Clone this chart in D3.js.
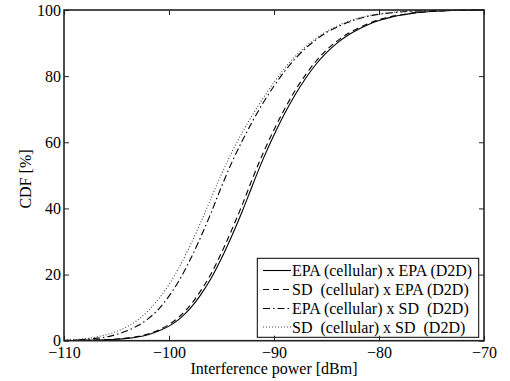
<!DOCTYPE html>
<html><head><meta charset="utf-8">
<script src="https://cdn.jsdelivr.net/npm/d3@7"></script>
<style>
html,body{margin:0;padding:0;background:#fff;}
svg text{font-family:"Liberation Serif","Times New Roman","DejaVu Serif",serif;font-size:16px;fill:#000;}
</style></head>
<body><svg id="c" width="510" height="381"></svg>
<script>
const powerDbm = d3.range(-110, -69, 1);
const epaEpa = [0.05,0.08,0.12,0.2,0.3,0.45,0.7,1.1,1.8,2.9,4.4,6.6,9.7,13.8,18.8,24.9,31.8,39.3,47.4,55.2,62.2,68.6,74.3,79.3,83.6,87.1,90.0,92.3,94.1,95.6,96.8,97.7,98.4,98.9,99.3,99.55,99.72,99.84,99.92,99.97,100];
const sdEpa = [0.06,0.09,0.14,0.22,0.34,0.5,0.8,1.25,2.0,3.2,4.9,7.3,10.6,15.0,20.2,26.6,33.7,41.3,49.4,57.0,63.8,70.0,75.6,80.4,84.5,87.9,90.6,92.8,94.5,95.9,97.1,97.9,98.5,99.0,99.35,99.6,99.75,99.86,99.93,99.97,100];
const epaSd = [0.1,0.2,0.4,0.7,1.1,1.9,3.0,4.5,6.6,9.5,13.5,18.4,24.4,31.2,38.6,46.6,54.0,60.6,66.6,72.1,77.0,81.4,85.2,88.4,91.0,93.2,94.8,96.2,97.3,98.1,98.7,99.1,99.4,99.6,99.75,99.85,99.9,99.94,99.97,99.99,100];
const sdSd = [0.2,0.35,0.6,1.1,1.8,2.8,4.2,6.2,9.0,12.6,17.0,22.4,28.7,35.6,43.0,50.4,57.1,63.1,68.5,73.5,78.1,82.3,85.9,88.9,91.4,93.5,95.1,96.5,97.5,98.3,98.8,99.2,99.5,99.7,99.8,99.88,99.93,99.96,99.98,99.99,100];
const seriesNames = ["EPA (cellular) x EPA (D2D)","SD  (cellular) x EPA (D2D)","EPA (cellular) x SD  (D2D)","SD  (cellular) x SD  (D2D)"];
const xTicks = [-110,-100,-90,-80,-70];
const yTicks = [0,20,40,60,80,100];

const styles = [
  {dash:null, color:"#000", w:1.1},
  {dash:"6,4", color:"#000", w:1.1},
  {dash:"7,3,1.5,3", color:"#000", w:1.1},
  {dash:"1,2", color:"#444", w:1.1}
];
const seriesVals = [epaEpa, sdEpa, epaSd, sdSd];

const svg = d3.select("#c");
const L=64, R=484, T=10, B=340.7;
const x = d3.scaleLinear().domain([-110,-70]).range([L,R]);
const y = d3.scaleLinear().domain([0,100]).range([B,T]);

const line = d3.line().x(d=>x(d[0])).y(d=>y(d[1])).curve(d3.curveMonotoneX);
const g = svg.append("g");
seriesVals.forEach((vals,i)=>{
  const pts = powerDbm.map((p,j)=>[p, vals[j]]);
  g.append("path").attr("d", line(pts)).attr("fill","none")
    .attr("stroke", styles[i].color).attr("stroke-width", styles[i].w)
    .attr("stroke-dasharray", styles[i].dash);
});

// legend
const lg = svg.append("g");
const lx0=257.3, ly0=258.3, lx1=478.7, ly1=337.3;
lg.append("rect").attr("x",lx0).attr("y",ly0).attr("width",lx1-lx0).attr("height",ly1-ly0)
  .attr("fill","#fff").attr("stroke","#000").attr("stroke-width",1);
const rowY = [270.5, 289.5, 308.5, 327];
seriesNames.forEach((n,i)=>{
  lg.append("line").attr("x1",263).attr("x2",291).attr("y1",rowY[i]).attr("y2",rowY[i])
    .attr("stroke",styles[i].color).attr("stroke-width",styles[i].w).attr("stroke-dasharray",styles[i].dash);
  lg.append("text").attr("x",292).attr("y",rowY[i]+5.5).attr("xml:space","preserve")
    .style("white-space","pre").text(n);
});

// axes box and ticks
const ax = svg.append("g");
const xAxisB = d3.axisBottom(x).tickValues(xTicks).tickSize(-5).tickPadding(6).tickFormat(d=>d<0?"\u2212"+Math.abs(d):d);
const xAxisT = d3.axisTop(x).tickValues(xTicks).tickSize(-5).tickFormat("");
const yAxisL = d3.axisLeft(y).tickValues(yTicks).tickSize(-5).tickPadding(3);
const yAxisR = d3.axisRight(y).tickValues(yTicks).tickSize(-5).tickFormat("");
[[xAxisB,`translate(0,${B})`],[xAxisT,`translate(0,${T})`],[yAxisL,`translate(${L},0)`],[yAxisR,`translate(${R},0)`]].forEach(([a,t])=>{
  const gg = ax.append("g").attr("transform",t).call(a);
  gg.selectAll(".domain").remove();
  gg.selectAll("line").attr("stroke","#222").attr("stroke-width",1);
  gg.selectAll("text").attr("font-family",null).attr("font-size",null).style("font-family",'"Liberation Serif","Times New Roman",serif').style("font-size","16px").attr("fill","#000");
});
ax.append("rect").attr("x",L).attr("y",T).attr("width",R-L).attr("height",B-T)
  .attr("fill","none").attr("stroke","#222").attr("stroke-width",1.6);

svg.append("text").attr("x",(L+R)/2).attr("y",374).attr("text-anchor","middle").text("Interference power [dBm]");
svg.append("text").attr("transform","translate(31,179) rotate(-90)").attr("text-anchor","middle").text("CDF [%]");
</script></body></html>
